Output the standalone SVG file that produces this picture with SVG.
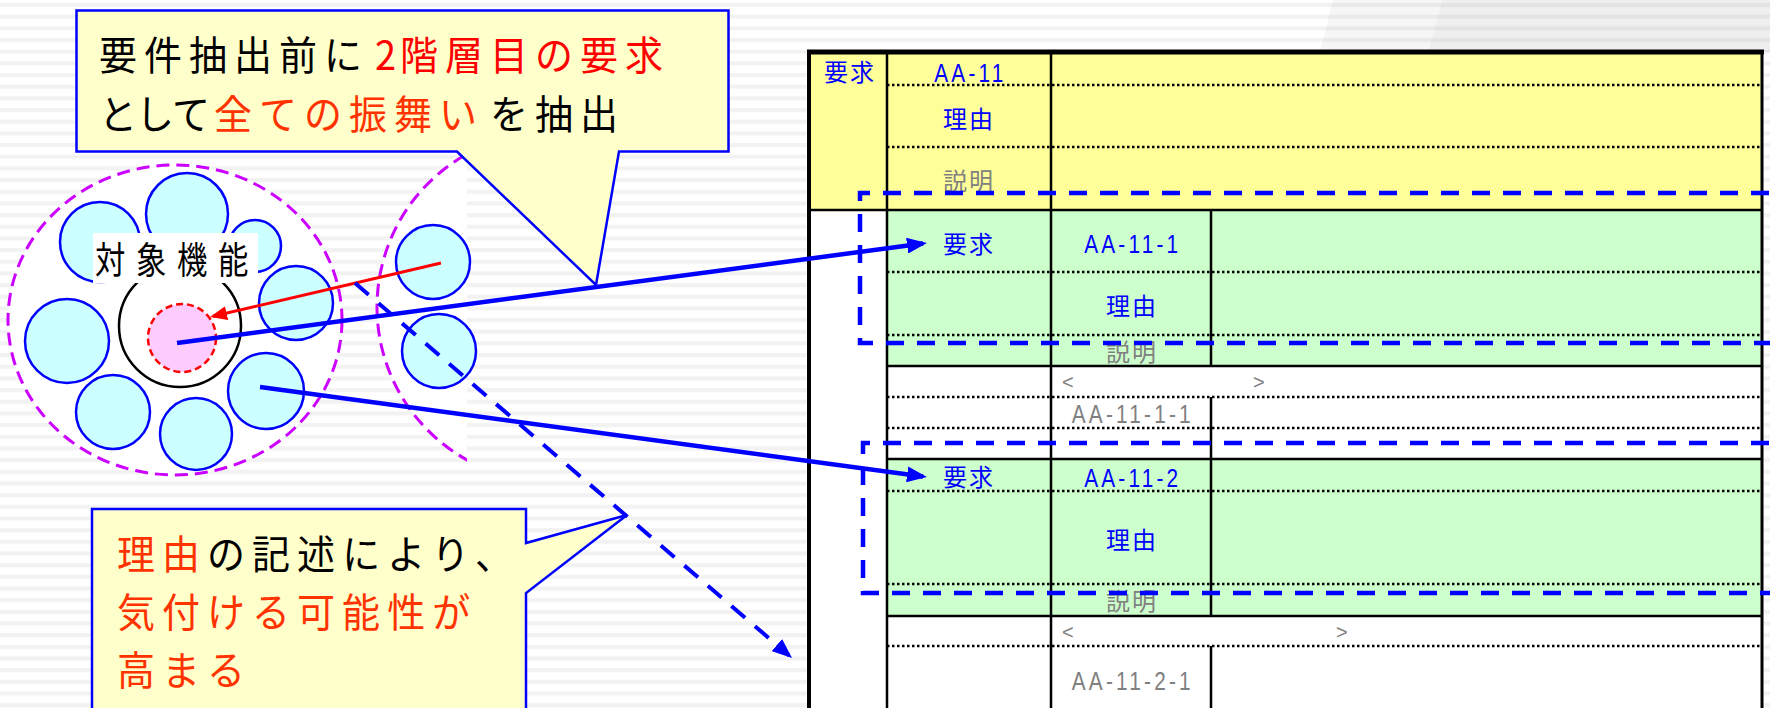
<svg xmlns="http://www.w3.org/2000/svg" width="1770" height="708" viewBox="0 0 1770 708">
<defs>
<style>
.jp{font-family:"Noto Sans CJK JP","Noto Sans CJK SC",sans-serif;}
.co{font-size:40px;letter-spacing:7.4px;fill:#000}
.red{fill:#FF0000}
.ora{fill:#FF3300}
.cell{font-family:"Noto Sans CJK JP","Noto Sans CJK SC",sans-serif;font-size:24px;letter-spacing:2px;text-anchor:middle}
.blue{fill:#0000FF}
.gray{fill:#808080}
.id{font-family:"Liberation Sans",Arial,sans-serif;font-size:26px;letter-spacing:4px;text-anchor:middle}
.chev{font-family:"Liberation Sans",Arial,sans-serif;font-size:20px;fill:#808080}
.sm{fill:#CCFFFF;stroke:#0000FF;stroke-width:2.5}
.dot{stroke:#000;stroke-width:2.5;stroke-dasharray:2.5 2.5;fill:none}
.rule{stroke:#000;stroke-width:2.5;fill:none}
.hl{stroke:#0000FF;stroke-width:4.5;stroke-dasharray:18 13;fill:none}
.mag{fill:#FFFFFF;stroke:#CC00FF;stroke-width:3;stroke-dasharray:13 7}
.callout{fill:#FFFFCC;stroke:#0000FF;stroke-width:2.5}
</style>
<pattern id="stripes" x="0" y="0" width="40" height="11.67" patternUnits="userSpaceOnUse"><rect y="3" width="40" height="4" fill="#000000" fill-opacity="0.05"/></pattern>
<marker id="ahBlue" markerUnits="userSpaceOnUse" viewBox="0 0 20 16" markerWidth="20" markerHeight="16" refX="16" refY="8" orient="auto"><path d="M0,0 L20,8 L0,16 Z" fill="#0000FF"/></marker>
<marker id="ahRed" markerUnits="userSpaceOnUse" viewBox="0 0 17 14" markerWidth="17" markerHeight="14" refX="14" refY="7" orient="auto"><path d="M0,0 L17,7 L0,14 Z" fill="#FF0000"/></marker>
<clipPath id="segClip"><rect x="0" y="0" width="467" height="708"/></clipPath>
</defs>

<!-- background -->
<rect x="0" y="0" width="1770" height="708" fill="#FFFFFF"/>
<polygon points="1333,0 1442,0 1428,52 1320,52" fill="#F6F6F6"/>
<polygon points="1442,0 1770,0 1770,52 1428,52" fill="#EFEFEF"/>
<rect x="0" y="0" width="1770" height="708" fill="url(#stripes)"/>

<!-- function cluster -->
<g id="cluster">
  <ellipse class="mag" cx="175" cy="320" rx="167" ry="155"/>
  <circle class="mag" cx="552" cy="307" r="175" clip-path="url(#segClip)"/>
  <circle class="sm" cx="100" cy="242" r="40"/>
  <circle class="sm" cx="187" cy="214" r="41"/>
  <circle class="sm" cx="255" cy="246" r="26"/>
  <circle class="sm" cx="296" cy="303" r="37"/>
  <circle class="sm" cx="67" cy="341" r="42"/>
  <circle class="sm" cx="113" cy="412" r="37"/>
  <circle class="sm" cx="196" cy="434" r="36"/>
  <circle class="sm" cx="266" cy="391" r="38"/>
  <circle class="sm" cx="433" cy="262" r="37"/>
  <circle class="sm" cx="439" cy="351" r="37"/>
</g>
<g id="target-function">
  <circle cx="180" cy="326" r="61" fill="#FFFFFF" stroke="#000000" stroke-width="2.5"/>
  <circle cx="182" cy="338" r="34" fill="#FFCCFF" stroke="#FF0000" stroke-width="2.5" stroke-dasharray="7 4"/>
  <rect x="93" y="233" width="165" height="50" fill="#FFFFFF"/>
  <text class="jp" transform="scale(0.82,1)" x="116" y="274" font-size="37" letter-spacing="13" fill="#000000">対象機能</text>
</g>

<!-- table -->
<g id="table">
  <rect x="809" y="52" width="953" height="660" fill="#FFFFFF"/>
  <rect x="809" y="52" width="953" height="158" fill="#FFFF99"/>
  <rect x="887" y="210" width="875" height="156" fill="#CCFFCC"/>
  <rect x="887" y="459" width="875" height="157" fill="#CCFFCC"/>
  <g>
    <path class="dot" d="M887,85 H1762 M887,147 H1762 M887,272 H1762 M887,335 H1762 M887,397 H1762 M887,428 H1762 M887,491 H1762 M887,584 H1762 M887,646 H1762"/>
    <path class="rule" d="M809,210 H1762 M887,366 H1762 M887,459 H1762 M887,616 H1762"/>
    <path class="rule" d="M887,52 V708 M1051,52 V708 M1211,210 V366 M1211,397 V616 M1211,646 V708"/>
    <path d="M809,50 V708" stroke="#000" stroke-width="4" fill="none"/>
    <path d="M807,52 H1764" stroke="#000" stroke-width="5" fill="none"/>
    <path d="M1762,52 V708" stroke="#000" stroke-width="3" fill="none"/>
  </g>
  <g id="req-AA-11">
    <text class="cell blue" x="850" y="81">要求</text>
    <text class="id blue" transform="scale(0.8,1)" x="1213" y="82" font-size="21" letter-spacing="6">AA-11</text>
    <text class="cell blue" x="969" y="128">理由</text>
    <text class="cell gray" x="969" y="190">説明</text>
  </g>
  <g id="req-AA-11-1">
    <text class="cell blue" x="969" y="253">要求</text>
    <text class="id blue" transform="scale(0.8,1)" x="1416" y="253">AA-11-1</text>
    <text class="cell blue" x="1132" y="315">理由</text>
    <text class="cell gray" x="1132" y="361">説明</text>
    <text class="chev" x="1062" y="389">&lt;</text>
    <text class="chev" x="1253" y="389">&gt;</text>
    <text class="id gray" transform="scale(0.8,1)" x="1416" y="423" font-size="25" letter-spacing="4.5">AA-11-1-1</text>
  </g>
  <g id="req-AA-11-2">
    <text class="cell blue" x="969" y="486">要求</text>
    <text class="id blue" transform="scale(0.8,1)" x="1416" y="487">AA-11-2</text>
    <text class="cell blue" x="1132" y="549">理由</text>
    <text class="cell gray" x="1132" y="610">説明</text>
    <text class="chev" x="1062" y="639">&lt;</text>
    <text class="chev" x="1336" y="639">&gt;</text>
    <text class="id gray" transform="scale(0.8,1)" x="1416" y="690" font-size="25" letter-spacing="4.5">AA-11-2-1</text>
  </g>
  <path id="highlight-1" class="hl" d="M1800,193 H860 V343 H1800"/>
  <path id="highlight-2" class="hl" d="M1800,443 H863 V593 H1800"/>
</g>

<!-- callouts -->
<g id="callout-top">
  <path class="callout" d="M76.5,10.5 H728.5 V151.5 H619 L596,285 L457,151.5 H76.5 Z"/>
  <text class="jp co" transform="scale(0.95,1)" x="104.2" y="70">要件抽出前に<tspan class="red" x="394.7">2</tspan><tspan class="red" x="421">階層目の要求</tspan></text>
  <text class="jp co" transform="scale(0.95,1)" x="104.2" y="129"><tspan letter-spacing="-1">として</tspan><tspan class="ora" x="225.3">全ての振舞い</tspan><tspan x="515.8">を抽出</tspan></text>
</g>
<g id="callout-bottom">
  <path class="callout" d="M92,509 H526 V543 L627,515 L526,593 V720 H92 Z"/>
  <text class="jp co" transform="scale(0.95,1)" x="123.2" y="569"><tspan class="ora">理由</tspan>の記述により、</text>
  <text class="jp co ora" transform="scale(0.95,1)" x="123.2" y="627">気付ける可能性が</text>
  <text class="jp co ora" transform="scale(0.95,1)" x="123.2" y="685">高まる</text>
</g>

<!-- connectors -->
<g id="connectors">
  <line x1="441" y1="263" x2="213" y2="316.3" stroke="#FF0000" stroke-width="3" marker-end="url(#ahRed)"/>
  <line x1="177" y1="343" x2="923" y2="243.5" stroke="#0000FF" stroke-width="4.5" marker-end="url(#ahBlue)"/>
  <line x1="260" y1="387" x2="923" y2="476.5" stroke="#0000FF" stroke-width="4.5" marker-end="url(#ahBlue)"/>
  <line x1="355" y1="283" x2="789" y2="655.4" stroke="#0000FF" stroke-width="4" stroke-dasharray="18 13" marker-end="url(#ahBlue)"/>
</g>
</svg>
